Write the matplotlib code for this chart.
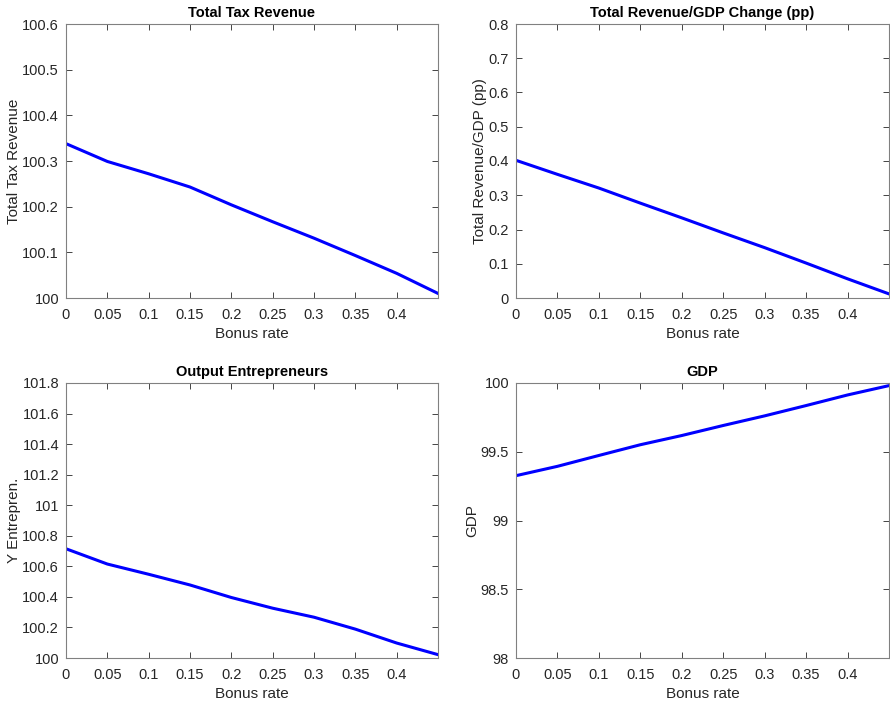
import matplotlib
matplotlib.use("Agg")
import matplotlib.pyplot as plt
import numpy as np

plt.rcParams["font.family"] = ["Liberation Sans", "DejaVu Sans"]

bonus_rate = [0.0, 0.05, 0.10, 0.15, 0.20, 0.25, 0.30, 0.35, 0.40, 0.45]

tax_revenue = [100.338, 100.299, 100.272, 100.243, 100.204, 100.167, 100.131, 100.093, 100.054, 100.010]
rev_gdp_change = [0.402, 0.361, 0.321, 0.277, 0.234, 0.190, 0.147, 0.102, 0.056, 0.012]
y_entrepreneurs = [100.715, 100.615, 100.548, 100.478, 100.396, 100.326, 100.267, 100.189, 100.098, 100.022]
gdp = [99.326, 99.394, 99.473, 99.551, 99.618, 99.691, 99.761, 99.836, 99.913, 99.981]

panels = [
    ("Total Tax Revenue", "Total Tax Revenue", tax_revenue, (100, 100.6), np.arange(100, 100.61, 0.1)),
    ("Total Revenue/GDP Change (pp)", "Total Revenue/GDP (pp)", rev_gdp_change, (0, 0.8), np.arange(0, 0.81, 0.1)),
    ("Output Entrepreneurs", "Y Entrepren.", y_entrepreneurs, (100, 101.8), np.arange(100, 101.81, 0.2)),
    ("GDP", "GDP", gdp, (98, 100), np.arange(98, 100.01, 0.5)),
]

# axes boxes in pixel coordinates (left, top, right, bottom)
boxes = [(66, 24, 438, 298), (516, 24, 889, 298), (66, 383, 438, 658), (516, 383, 889, 658)]

W, H = 890, 701
fig = plt.figure(figsize=(W / 100, H / 100), dpi=100)
grey = "#262626"
xt = np.round(np.arange(0, 0.41, 0.05), 2)

for (title, ylabel, vals, ylim, yticks), (l, t, r, b) in zip(panels, boxes):
    ax = fig.add_axes([l / W, 1 - b / H, (r - l) / W, (b - t) / H])
    ax.plot(bonus_rate, vals, color="#0000ff", linewidth=2.2)
    ax.set_xlim(0, 0.45)
    ax.set_ylim(*ylim)
    ax.set_xticks(xt)
    ax.set_xticklabels([f"{v:g}" for v in xt])
    ax.set_yticks(yticks)
    ax.set_yticklabels([f"{round(v, 2):g}" for v in yticks])
    ax.tick_params(direction="in", top=True, right=True, length=4, width=0.6,
                   labelsize=10.5, colors=grey)
    ax.tick_params(axis="x", pad=7)
    ax.tick_params(axis="y", pad=5)
    for sp in ax.spines.values():
        sp.set_color("#808080")
        sp.set_linewidth(0.8)
    ax.set_title(title, fontsize=10.5, fontweight="bold", color="black", pad=5)
    ax.set_xlabel("Bonus rate", fontsize=11, color=grey, labelpad=4)
    ax.set_ylabel(ylabel, fontsize=11, color=grey, labelpad=1)

fig.savefig("out.png", dpi=100)
